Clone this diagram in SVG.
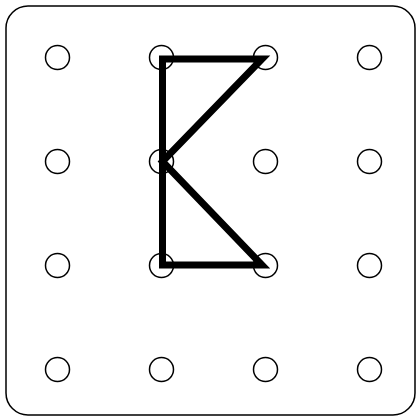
<svg xmlns="http://www.w3.org/2000/svg" width="420" height="420" viewBox="0 0 420 420">
<style>
.peg{fill:none;stroke:#000;stroke-width:1.5}
.band{fill:none;stroke:#000;stroke-width:7;stroke-linejoin:miter}
</style>
<rect x="6" y="6" width="409" height="409" rx="22" ry="22" fill="#fff" stroke="#000" stroke-width="1.5"/>
<g id="pegs">
<g id="p00"><circle class="peg" cx="57.5" cy="57.5" r="12"/></g>
<g id="p01"><circle class="peg" cx="161.5" cy="57.5" r="12"/></g>
<g id="p02"><circle class="peg" cx="265.5" cy="57.5" r="12"/></g>
<g id="p03"><circle class="peg" cx="369.5" cy="57.5" r="12"/></g>
<g id="p10"><circle class="peg" cx="57.5" cy="161.5" r="12"/></g>
<g id="p11"><circle class="peg" cx="161.5" cy="161.5" r="12"/></g>
<g id="p12"><circle class="peg" cx="265.5" cy="161.5" r="12"/></g>
<g id="p13"><circle class="peg" cx="369.5" cy="161.5" r="12"/></g>
<g id="p20"><circle class="peg" cx="57.5" cy="265.5" r="12"/></g>
<g id="p21"><circle class="peg" cx="161.5" cy="265.5" r="12"/></g>
<g id="p22"><circle class="peg" cx="265.5" cy="265.5" r="12"/></g>
<g id="p23"><circle class="peg" cx="369.5" cy="265.5" r="12"/></g>
<g id="p30"><circle class="peg" cx="57.5" cy="369.5" r="12"/></g>
<g id="p31"><circle class="peg" cx="161.5" cy="369.5" r="12"/></g>
<g id="p32"><circle class="peg" cx="265.5" cy="369.5" r="12"/></g>
<g id="p33"><circle class="peg" cx="369.5" cy="369.5" r="12"/></g>
</g>
<g id="connectors">
<path class="band" d="M162.5,59 L262,59 L162.5,161.5 L262,265 L162.5,265 Z"/>
</g>
</svg>
